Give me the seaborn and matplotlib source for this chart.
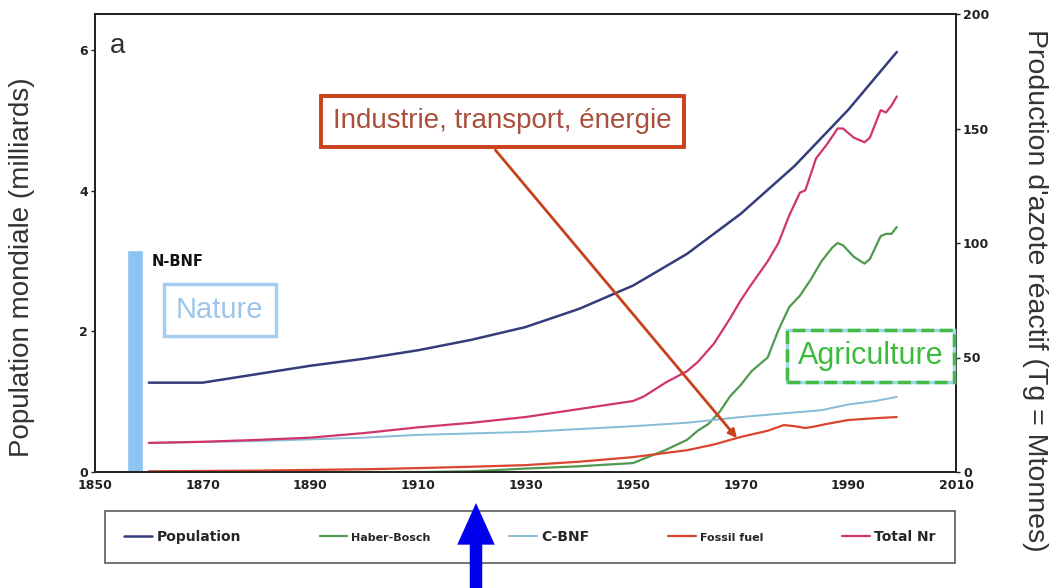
import numpy as np
import pandas as pd
import matplotlib
matplotlib.use('Agg')
import matplotlib.pyplot as plt
from matplotlib.text import Annotation
import seaborn as sns

# population mondiale (milliards)
pop_years = [1860, 1870, 1880, 1890, 1900, 1910, 1920, 1930, 1940, 1950, 1960, 1970, 1980, 1990, 1999]
pop = [1.27, 1.27, 1.39, 1.51, 1.61, 1.73, 1.88, 2.06, 2.32, 2.65, 3.1, 3.67, 4.35, 5.15, 5.97]

# azote reactif (Tg)
hb_years = [1860, 1900, 1910, 1920, 1930, 1940, 1950, 1956, 1960, 1962, 1964, 1966, 1968, 1970,
            1972, 1974, 1975, 1977, 1979, 1981, 1983, 1985, 1987, 1988, 1989, 1991, 1993, 1994,
            1996, 1997, 1998, 1999]
hb = [0, 0, 0, 0.3, 1.5, 2.5, 3.9, 9.6, 14, 18, 21, 26, 33, 38,
      44, 48, 50, 62, 72, 77, 84, 92, 98, 100, 99, 94, 91, 93,
      103, 104, 104, 107]

cbnf_years = [1860, 1880, 1900, 1910, 1930, 1950, 1960, 1970, 1980, 1985, 1990, 1995, 1999]
cbnf = [12.7, 13.5, 15, 16.2, 17.5, 20, 21.5, 24, 26, 27, 29.5, 31, 32.8]

ff_years = [1860, 1880, 1900, 1910, 1920, 1930, 1940, 1950, 1960, 1965, 1970, 1975, 1978, 1980,
            1982, 1984, 1986, 1990, 1995, 1999]
ff = [0.3, 0.6, 1.2, 1.7, 2.3, 3, 4.5, 6.5, 9.5, 12, 15.3, 18, 20.5, 20,
      19.2, 20, 21, 22.7, 23.5, 24]

tot_years = [1860, 1870, 1880, 1890, 1900, 1910, 1920, 1930, 1940, 1950, 1952, 1956, 1960, 1962,
             1965, 1968, 1970, 1972, 1975, 1977, 1979, 1981, 1982, 1984, 1986, 1988, 1989, 1991,
             1993, 1994, 1996, 1997, 1998, 1999]
tot = [12.7, 13.2, 14, 15, 17, 19.5, 21.5, 24, 27.5, 31, 33, 39, 44, 48,
       56, 67, 75, 82, 92, 100, 112, 122, 123, 137, 143, 150, 150, 146,
       144, 146, 158, 157, 160, 164]

nbnf_year = [1857.4]
nbnf_height = [3.16]

sns.set_theme(style='white')
plt.rcParams['font.family'] = ['Liberation Sans', 'DejaVu Sans']

fig = plt.figure(figsize=(10.51, 5.88), dpi=100)
ax = fig.add_axes([95 / 1051, 1 - 472 / 588, 861 / 1051, 458 / 588])
ax2 = ax.twinx()

c_pop = '#343c7c'
c_hb = '#4f9a4f'
c_cbnf = '#86bcd8'
c_ff = '#d9452e'
c_tot = '#d0356a'

ax.bar(nbnf_year, nbnf_height, width=3, color='#8dc4f2', zorder=1)
sns.lineplot(x=pop_years, y=pop, ax=ax, color=c_pop, lw=1.8, label='Population', legend=False)
sns.lineplot(x=hb_years, y=hb, ax=ax2, color=c_hb, lw=1.6, label='Haber-Bosch', legend=False)
sns.lineplot(x=cbnf_years, y=cbnf, ax=ax2, color=c_cbnf, lw=1.4, label='C-BNF', legend=False)
sns.lineplot(x=ff_years, y=ff, ax=ax2, color=c_ff, lw=1.6, label='Fossil fuel', legend=False)
sns.lineplot(x=tot_years, y=tot, ax=ax2, color=c_tot, lw=1.6, label='Total Nr', legend=False)

ax.set_xlim(1850, 2010)
ax.set_ylim(0, 6.51)
ax2.set_ylim(0, 200)
ax.set_xticks(range(1850, 2011, 20))
ax.set_yticks([0, 2, 4, 6])
ax2.set_yticks([0, 50, 100, 150, 200])
ax.set_xlabel('')
ax.set_ylabel('')
ax2.set_ylabel('')

for a in (ax, ax2):
    for s in a.spines.values():
        s.set_color('#222222')
        s.set_linewidth(1.3)
    a.tick_params(direction='out', length=3, width=1, color='#222222', pad=2)
    for lab in a.get_xticklabels() + a.get_yticklabels():
        lab.set_family('DejaVu Sans')
        lab.set_weight('bold')
        lab.set_fontsize(9)
        lab.set_color('#222222')

ax.text(1852.8, 6.06, 'a', fontsize=20, ha='left', va='center', color='#333333')
ax.text(1860.6, 2.99, 'N-BNF', fontsize=10.5, fontweight='bold', family='DejaVu Sans',
        ha='left', va='center', color='#111111')
ax.text(1873.2, 2.3, 'Nature', fontsize=21, ha='center', va='center', color='#9fc5ea',
        bbox=dict(boxstyle='square,pad=0.42', fc='white', ec='#a5cdf2', lw=2.5))

ax2.text(1925.7, 153.1, 'Industrie, transport, énergie', fontsize=20, ha='center', va='center',
         color='#a8503c', zorder=5,
         bbox=dict(boxstyle='square,pad=0.45', fc='white', ec='#c9401a', lw=2.8))
ax2.annotate('', xy=(1969.3, 14.8), xytext=(1924.4, 140.6),
             arrowprops=dict(arrowstyle='-|>', color='#c8401c', lw=2, mutation_scale=12,
                             shrinkA=0, shrinkB=0), zorder=4)

ax2.text(1994.2, 50.7, 'Agriculture', fontsize=22, ha='center', va='center', color='none',
         zorder=5, clip_on=False,
         bbox=dict(boxstyle='square,pad=0.35', fc='white', ec='#9fd8e8', lw=2.5))
ax2.text(1994.2, 50.7, 'Agriculture', fontsize=22, ha='center', va='center', color='#3dbb3d',
         zorder=6, clip_on=False,
         bbox=dict(boxstyle='square,pad=0.35', fc='none', ec='#44bb44', lw=2.5, ls='--'))

fig.text(22 / 1051, 0.545, 'Population mondiale (milliards)', rotation=90, fontsize=20,
         ha='center', va='center', color='#333333')
fig.text(1035 / 1051, 0.507, "Production d'azote réactif (Tg = Mtonnes)", rotation=-90,
         fontsize=20.5, ha='center', va='center', color='#333333')

h1, l1 = ax.get_legend_handles_labels()
h2, l2 = ax2.get_legend_handles_labels()
leg = fig.legend(h1 + h2, l1 + l2, loc='center', ncol=5, mode='expand',
                 bbox_to_anchor=(105 / 1051, 1 - 566 / 588, 850 / 1051, 58 / 588),
                 frameon=True, fancybox=False, edgecolor='#333333', borderpad=1.4,
                 handlelength=2, handletextpad=0.3, borderaxespad=0,
                 prop=dict(family='DejaVu Sans', weight='bold', size=10))
leg.get_frame().set_linewidth(1.2)
for i in (1, 3):
    leg.get_texts()[i].set_fontsize(8)

# fleche bleue par-dessus la legende
arrow = Annotation('', xy=(476 / 1051, 1 - 503 / 588), xytext=(476 / 1051, 0),
                   xycoords='figure fraction', textcoords='figure fraction',
                   arrowprops=dict(width=9, headwidth=27, headlength=30, color='#0000ee', lw=0))
arrow.set_zorder(20)
fig.add_artist(arrow)

fig.savefig('out.png', dpi=100)
